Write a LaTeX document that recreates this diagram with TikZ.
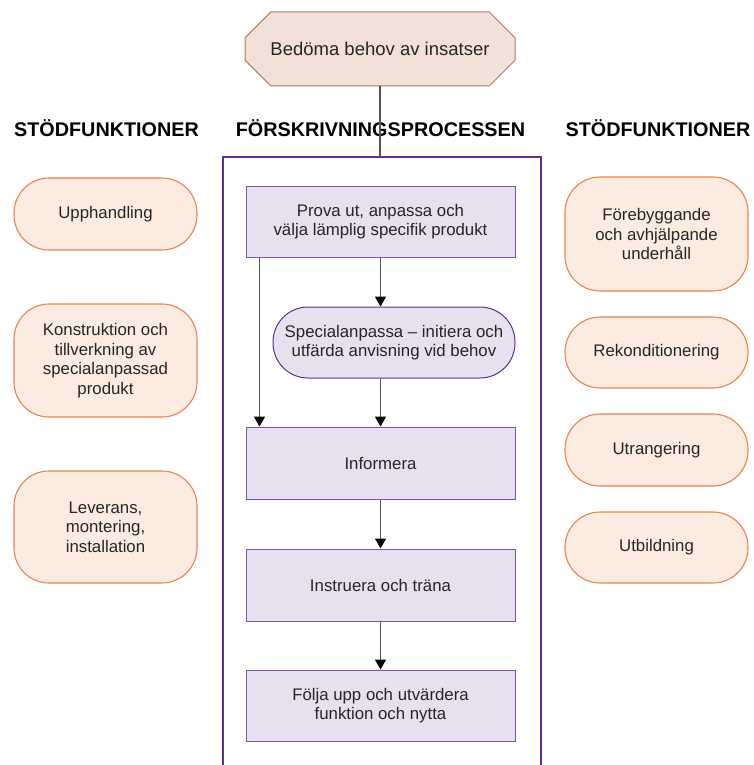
\documentclass[tikz,border=0pt]{standalone}
\usepackage{fontspec}
\setmainfont{Liberation Sans}
\usetikzlibrary{arrows.meta,shapes.misc,calc}
\definecolor{txt}{HTML}{262626}
\definecolor{pillfill}{HTML}{FCEBE0}
\definecolor{pilldraw}{HTML}{E8834E}
\definecolor{topfill}{HTML}{F1E1D9}
\definecolor{topdraw}{HTML}{B5765C}
\definecolor{purp}{HTML}{5E2F92}
\definecolor{lav}{HTML}{E6E0EF}
\definecolor{lavdraw}{HTML}{7A55A8}
\definecolor{arrgray}{HTML}{555555}
\tikzset{
  lbl/.style={font=\fontsize{16.8}{19.5}\selectfont, text=txt, align=center},
  side/.style={lbl, draw=pilldraw, fill=pillfill, line width=1.1pt, rounded corners=35pt, minimum width=183pt, inner sep=0pt},
  procbox/.style={lbl, draw=lavdraw, fill=lav, line width=1pt, minimum width=269pt, minimum height=71pt, inner sep=0pt},
  heading/.style={font=\fontsize{19.8}{22}\selectfont\bfseries, text=black},
  arr/.style={draw=arrgray, line width=1.4pt, -{Triangle[width=11pt,length=10pt,color=black,fill=black]}}
}
\begin{document}
\begin{tikzpicture}[x=1pt,y=-1pt]
\useasboundingbox (0,0) rectangle (753,765);
% top box
\node[lbl, font=\fontsize{18.5}{22}\selectfont, shape=chamfered rectangle, chamfered rectangle xsep=20pt, chamfered rectangle ysep=19pt, draw=topdraw, fill=topfill, line width=1pt, minimum width=270pt, minimum height=74pt, inner sep=0pt] (top) at (380,49) {Bedöma behov av insatser};
% headings
\node[heading] (hl) at (106.5,128) {STÖDFUNKTIONER};
\node[heading] (hm) at (380.5,128) {FÖRSKRIVNINGSPROCESSEN};
\node[heading] (hr) at (658,128) {STÖDFUNKTIONER};
% frame
\coordinate (ftl) at (223,157);
\coordinate (ftr) at (541,157);
\draw[purp, line width=2pt] (223,770) -- (ftl) -- (ftr) -- (541,770);
\draw[arrgray, line width=1.6pt] (top.south) -- (top.south |- ftl);
% process
\node[procbox] (b1) at (380.5,221.5) {Prova ut, anpassa och\\välja lämplig specifik produkt};
\node[lbl, draw=purp, fill=lav, line width=1pt, rounded corners=35pt, minimum width=242pt, minimum height=71pt, inner sep=0pt] (sp) at (394,342.5) {Specialanpassa – initiera och\\utfärda anvisning vid behov};
\node[procbox, minimum height=72pt] (inf) at (380.5,463) {Informera};
\node[procbox, minimum height=72pt] (ins) at (380.5,585) {Instruera och träna};
\node[procbox] (fol) at (380.5,705.5) {Följa upp och utvärdera\\funktion och nytta};
\draw[arr] (b1.south) -- (b1.south |- sp.north);
\draw[arr] (sp.south -| b1.south) -- (inf.north);
\draw[arr] ([xshift=14pt]b1.south west) -- ([xshift=14pt]inf.north west);
\draw[arr] (inf.south) -- (ins.north);
\draw[arr] (ins.south) -- (fol.north);
% left side
\node[side, minimum height=72pt] (l1) at (105.5,214) {Upphandling};
\node[side, minimum height=113pt] (l2) at (105.5,360.5) {Konstruktion och\\tillverkning av\\specialanpassad\\produkt};
\node[side, minimum height=112pt] (l3) at (105.5,527) {Leverans,\\montering,\\installation};
% right side
\node[side, minimum height=114pt] (r1) at (656.5,234) {Förebyggande\\och avhjälpande\\underhåll};
\node[side, minimum height=71pt] (r2) at (656.5,352.5) {Rekonditionering};
\node[side, minimum height=72pt] (r3) at (656.5,450) {Utrangering};
\node[side, minimum height=71pt] (r4) at (656.5,547.5) {Utbildning};
\end{tikzpicture}
\end{document}
